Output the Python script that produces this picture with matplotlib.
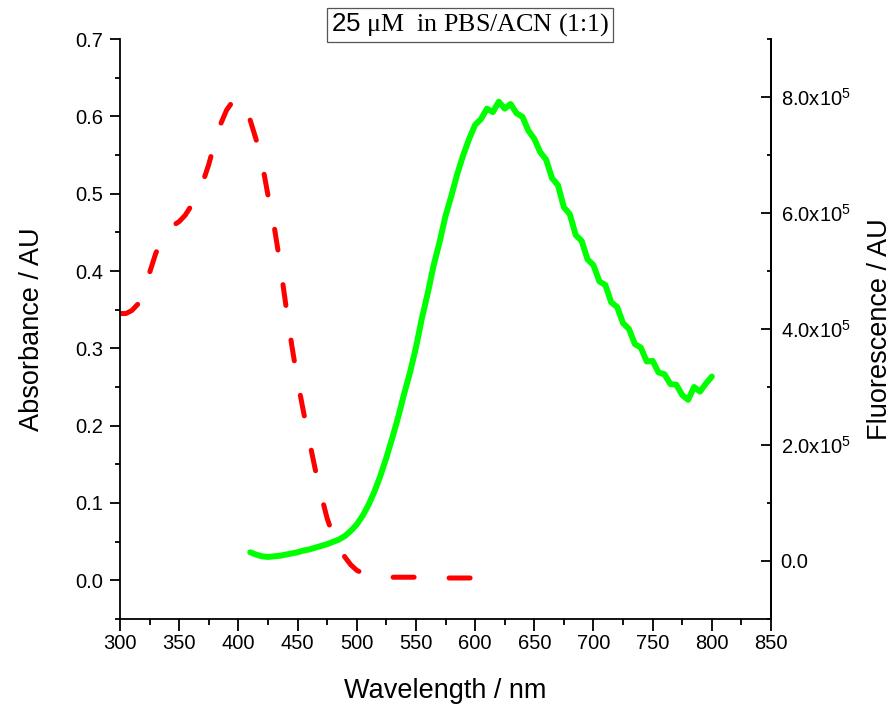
import numpy as np
import matplotlib
matplotlib.use("Agg")
import matplotlib.pyplot as plt
from matplotlib.ticker import MultipleLocator, FormatStrFormatter, FuncFormatter

plt.rcParams["font.family"] = ["Liberation Sans", "DejaVu Sans"]
plt.rcParams["mathtext.fontset"] = "custom"
plt.rcParams["mathtext.rm"] = "Liberation Sans"
plt.rcParams["mathtext.it"] = "Liberation Sans:italic"
plt.rcParams["mathtext.bf"] = "Liberation Sans:bold"

# absorbance (red, dashed, left axis)
abs_wl = [300, 305, 310, 315, 320, 325, 330, 335, 340, 345, 350, 355, 360,
          365, 370, 375, 380, 385, 390, 395, 400, 405, 410, 415, 420, 425,
          430, 435, 440, 445, 450, 455, 460, 465, 470, 475, 480, 485, 490,
          495, 500, 505, 510, 520, 530, 540, 550, 560, 570, 580, 590, 600]
abs_val = [0.345, 0.345, 0.349, 0.357, 0.373, 0.398, 0.422, 0.441, 0.452,
           0.459, 0.464, 0.472, 0.484, 0.497, 0.515, 0.538, 0.566, 0.590,
           0.608, 0.619, 0.623, 0.615, 0.595, 0.570, 0.540, 0.498, 0.460,
           0.412, 0.357, 0.305, 0.258, 0.218, 0.180, 0.143, 0.110, 0.080,
           0.058, 0.043, 0.030, 0.020, 0.013, 0.009, 0.007, 0.005, 0.004,
           0.004, 0.004, 0.003, 0.003, 0.003, 0.003, 0.003]

# fluorescence (green, right axis), in units of 1e5
fl_wl = list(range(410, 805, 5))
fl_val = [0.15, 0.11, 0.08, 0.07, 0.08, 0.09, 0.11, 0.13, 0.15, 0.18, 0.20,
          0.23, 0.26, 0.29, 0.33, 0.37, 0.43, 0.52, 0.63, 0.78, 0.97, 1.20,
          1.47, 1.78, 2.12, 2.48, 2.88, 3.25, 3.68, 4.18, 4.62, 5.10, 5.50,
          5.95, 6.30, 6.68, 7.00, 7.28, 7.52, 7.62, 7.80, 7.74, 7.92, 7.80,
          7.88, 7.72, 7.66, 7.42, 7.28, 7.05, 6.92, 6.60, 6.48, 6.10, 5.98,
          5.62, 5.52, 5.20, 5.10, 4.82, 4.76, 4.46, 4.38, 4.10, 4.00, 3.74,
          3.68, 3.44, 3.45, 3.25, 3.22, 3.05, 3.04, 2.86, 2.78, 3.00, 2.92,
          3.06, 3.18]

fig = plt.figure(figsize=(8.93, 7.10), dpi=100)
ax = fig.add_axes([0.1344, 0.1282, 0.729, 0.8168])
ax2 = ax.twinx()

ax2.plot(fl_wl, np.array(fl_val) * 1e5, color="#00ff00", lw=4.3,
         solid_joinstyle="round", solid_capstyle="round")
ax.plot(abs_wl, abs_val, color="red", lw=3.6, dashes=(4.2, 7.0),
        dash_capstyle="round")

ax.set_zorder(ax2.get_zorder() + 1)
ax.patch.set_visible(False)

ax.set_xlim(300, 850)
ax.set_ylim(-0.05, 0.7)
ax2.set_ylim(-1e5, 9e5)

ax.xaxis.set_major_locator(MultipleLocator(50))
ax.xaxis.set_minor_locator(MultipleLocator(25))
ax.yaxis.set_major_locator(MultipleLocator(0.1))
ax.yaxis.set_minor_locator(MultipleLocator(0.05))
ax.yaxis.set_major_formatter(FormatStrFormatter("%.1f"))
ax2.yaxis.set_major_locator(MultipleLocator(2e5))
ax2.yaxis.set_minor_locator(MultipleLocator(1e5))


def fl_fmt(v, pos):
    if abs(v) < 1:
        return "0.0"
    return f"{v / 1e5:.1f}x10$^{{5}}$"


ax2.yaxis.set_major_formatter(FuncFormatter(fl_fmt))

for a in (ax, ax2):
    a.spines["top"].set_visible(False)
    for s in a.spines.values():
        s.set_linewidth(1.3)
ax2.spines["left"].set_visible(False)
ax2.spines["bottom"].set_visible(False)

ax.tick_params(axis="x", which="major", direction="out", length=8.5,
               width=1.3, labelsize=14.5, pad=2)
ax.tick_params(axis="x", which="minor", direction="out", length=4.5, width=1.3)
ax.tick_params(axis="y", which="major", direction="out", length=7,
               width=1.3, labelsize=14.5, pad=5)
ax.tick_params(axis="y", which="minor", direction="out", length=3.5, width=1.3)
ax2.tick_params(axis="y", which="major", direction="in", length=7,
                width=1.3, labelsize=14.5, pad=7)
ax2.tick_params(axis="y", which="minor", direction="in", length=3, width=1.3)

ax.set_xlabel("Wavelength / nm", fontsize=19.5, labelpad=18)
ax.set_ylabel("Absorbance / AU", fontsize=19.5, labelpad=22)
ax2.set_ylabel("Fluorescence / AU", fontsize=19.5, labelpad=12)

fig.text(470 / 893, 1 - 25 / 710, r"$\mathrm{25}$ μM  in PBS/ACN (1:1)",
         family="Liberation Serif", fontsize=18.7, ha="center", va="center",
         bbox=dict(boxstyle="square,pad=0.14", fc="white", ec="#555555",
                   lw=0.9))

fig.savefig("out.png", dpi=100, facecolor="white")
